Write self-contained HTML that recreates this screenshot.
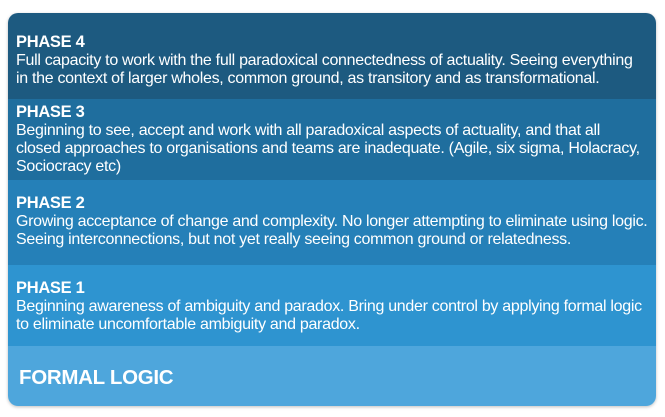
<!DOCTYPE html>
<html><head><meta charset="utf-8"><style>
body{margin:0;width:665px;height:417px;background:#fff;font-family:"Liberation Sans",Arial,sans-serif;overflow:hidden;position:relative}
#box{position:absolute;left:8px;top:13px;width:648px;height:393px;border-radius:10px;overflow:hidden;box-shadow:0 1px 3px rgba(0,0,0,.25)}
.band{position:absolute;left:0;width:648px;color:#fff}
.h{position:absolute;left:8px;font-weight:bold;font-size:16.5px;line-height:18px;letter-spacing:-0.3px}
.t{position:absolute;left:8px;font-size:16px;line-height:18px;width:645px;letter-spacing:-0.3px;white-space:nowrap}
</style></head><body>
<div id="box">
<div class="band" style="top:0;height:86px;background:#1d5a80">
<div class="h" style="top:20px">PHASE 4</div>
<div class="t" style="top:39px">Full capacity to work with the full paradoxical connectedness of actuality. Seeing everything<br>in the context of larger wholes, common ground, as transitory and as transformational.</div>
</div>
<div class="band" style="top:86px;height:81px;background:#1f6e9e">
<div class="h" style="top:4px">PHASE 3</div>
<div class="t" style="top:23px">Beginning to see, accept and work with all paradoxical aspects of actuality, and that all<br>closed approaches to organisations and teams are inadequate. (Agile, six sigma, Holacracy,<br>Sociocracy etc)</div>
</div>
<div class="band" style="top:167px;height:85px;background:#2580b8">
<div class="h" style="top:14px">PHASE 2</div>
<div class="t" style="top:33px">Growing acceptance of change and complexity. No longer attempting to eliminate using logic.<br>Seeing interconnections, but not yet really seeing common ground or relatedness.</div>
</div>
<div class="band" style="top:252px;height:81px;background:#2e94d0">
<div class="h" style="top:14px">PHASE 1</div>
<div class="t" style="top:33px">Beginning awareness of ambiguity and paradox. Bring under control by applying formal logic<br>to eliminate uncomfortable ambiguity and paradox.</div>
</div>
<div class="band" style="top:333px;height:60px;background:#4ea6dc">
<div class="h" style="top:21px;left:11px;font-size:20.5px;line-height:22px">FORMAL LOGIC</div>
</div>
</div>
</body></html>
